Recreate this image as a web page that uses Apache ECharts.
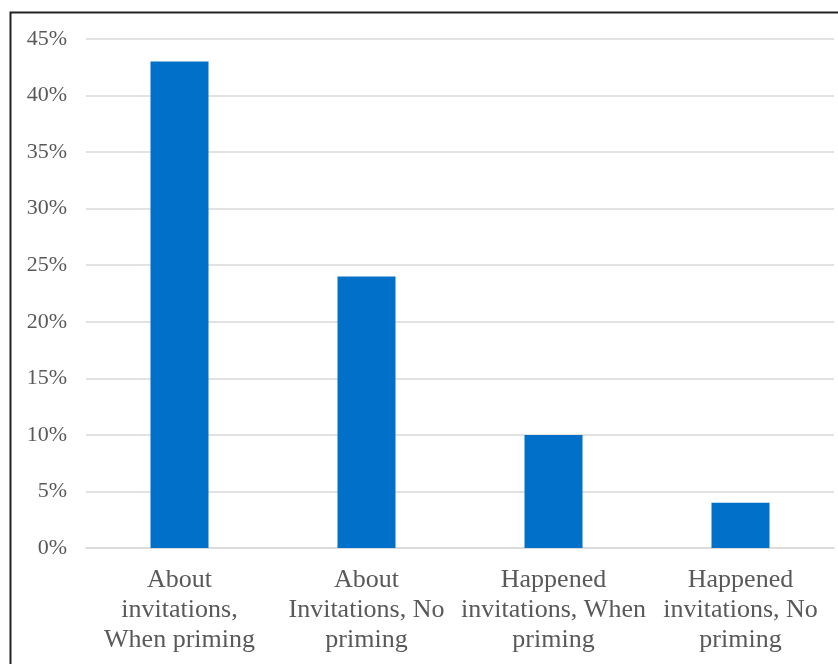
<!DOCTYPE html>
<html>
<head>
<meta charset="utf-8">
<script src="https://cdn.jsdelivr.net/npm/echarts@6/dist/echarts.min.js"></script>
<style>
    html, body { margin: 0; padding: 0; background: #fff; }
    #chart { width: 838px; height: 664px; }
</style>
</head>
<body>
<div id="chart"></div>
<script>
// Data
const categories = [
    'About\ninvitations,\nWhen priming',
    'About\nInvitations, No\npriming',
    'Happened\ninvitations, When\npriming',
    'Happened\ninvitations, No\npriming'
]
const shares = [43, 24, 10, 4]
const yTicks = [0, 5, 10, 15, 20, 25, 30, 35, 40, 45]

const chart = echarts.init(document.getElementById('chart'))

const option = {
    animation: false,
    backgroundColor: '#fff',
    graphic: [
        {
            type: 'rect',
            shape: { x: 10.5, y: 12.5, width: 900, height: 700 },
            style: { fill: 'none', stroke: '#222', lineWidth: 2 },
            silent: true
        }
    ],
    grid: {
        left: 86,
        right: 4,
        top: 39,
        bottom: 116
    },
    xAxis: {
        type: 'category',
        data: categories,
        axisTick: { show: false },
        axisLine: { lineStyle: { color: '#d9d9d9', width: 1.5 } },
        axisLabel: {
            interval: 0,
            margin: 17,
            color: '#595959',
            fontFamily: 'Liberation Serif',
            fontSize: 26,
            lineHeight: 30,
            align: 'center'
        }
    },
    yAxis: {
        type: 'value',
        min: yTicks[0],
        max: yTicks[yTicks.length - 1],
        interval: 5,
        axisLine: { show: false },
        axisTick: { show: false },
        splitLine: { lineStyle: { color: '#d9d9d9', width: 1.5 } },
        axisLabel: {
            formatter: '{value}%',
            margin: 19,
            color: '#595959',
            fontFamily: 'Liberation Serif',
            fontSize: 22
        }
    },
    series: [
        {
            type: 'bar',
            data: shares,
            barWidth: 58,
            itemStyle: { color: '#0070c8' }
        }
    ]
}

chart.setOption(option)
</script>
</body>
</html>
